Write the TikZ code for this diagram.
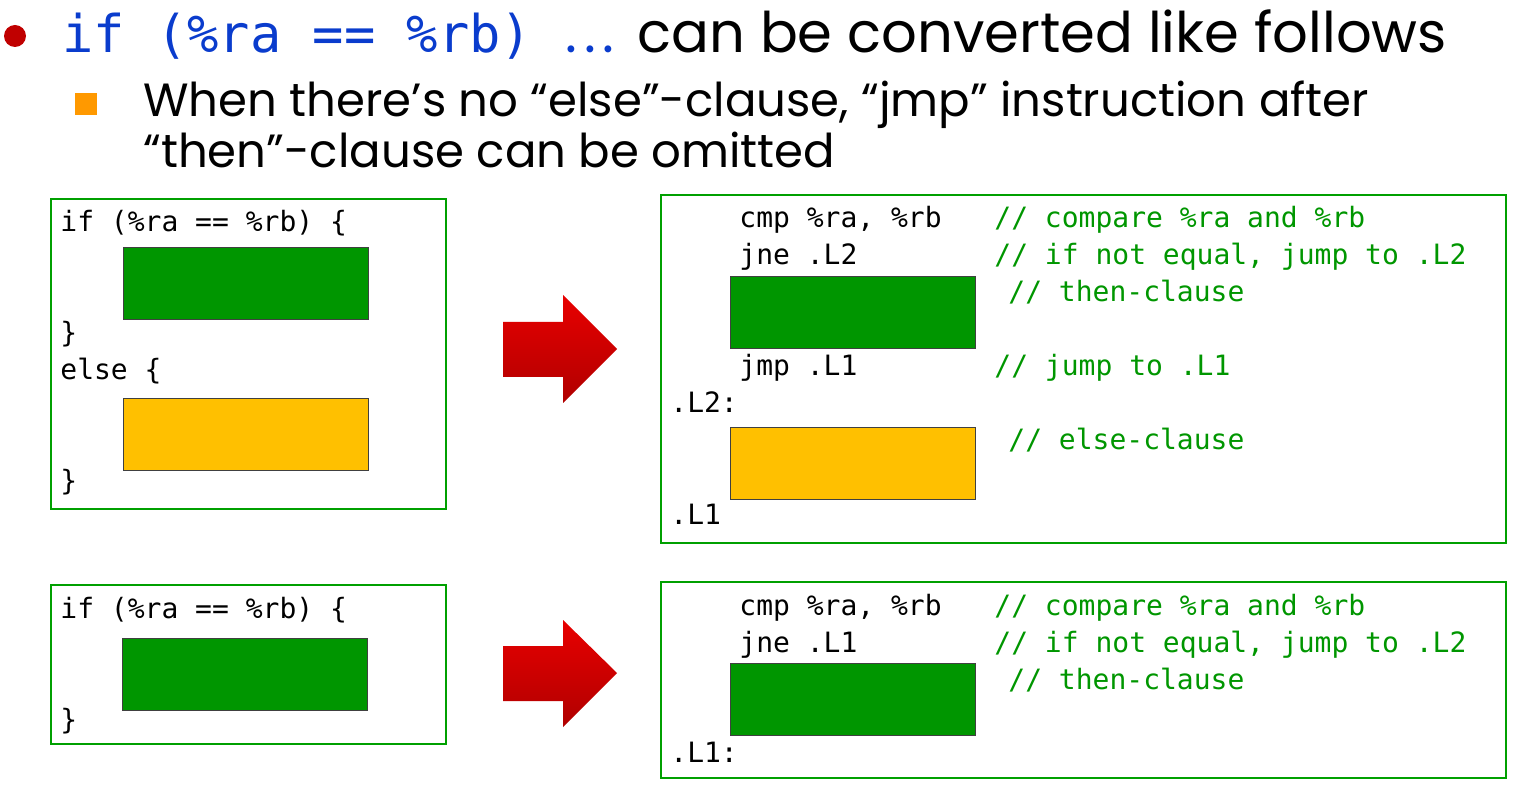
\documentclass[tikz,border=0pt]{standalone}
\usepackage{fontspec}
\setmainfont{Poppins}
\setmonofont{DejaVu Sans Mono}
\definecolor{titleblue}{RGB}{10,60,205}
\definecolor{bulletred}{RGB}{192,0,0}
\definecolor{suborange}{RGB}{255,153,0}
\definecolor{framegreen}{RGB}{0,160,0}
\definecolor{cmtgreen}{RGB}{0,150,0}
\definecolor{blkgreen}{RGB}{0,150,0}
\definecolor{blkorange}{RGB}{255,192,0}
\definecolor{arrtop}{RGB}{232,0,0}
\definecolor{arrbot}{RGB}{176,0,0}
\begin{document}
\begin{tikzpicture}[x=0.5pt,y=-0.5pt,
  code/.style={font=\ttfamily\fontsize{14}{16}\selectfont, anchor=base west, inner sep=0pt},
  cmt/.style={code, text=cmtgreen},
  frame/.style={draw=framegreen, line width=1.2pt, anchor=north west, inner sep=0pt},
  blk/.style={draw=black!75, line width=0.5pt, anchor=north west, inner sep=0pt,
    minimum width=122.5pt, minimum height=36pt},
  thenblk/.style={blk, fill=blkgreen},
  elseblk/.style={blk, fill=blkorange},
  bigarrow/.style={top color=arrtop, bottom color=arrbot},
  head/.style={anchor=base west, inner sep=0pt, font=\fontsize{28}{32}\selectfont},
  sub/.style={anchor=base west, inner sep=0pt, font=\fontsize{23.3}{27}\selectfont}]
\useasboundingbox (0,0) rectangle (1517,791);

% heading line
\node[circle, fill=bulletred, minimum size=11pt, inner sep=0pt] (dot) at (15,36) {};
\node[anchor=base west, inner sep=0pt, text=titleblue,
  font=\ttfamily\fontsize{26}{30}\selectfont] (cond) at (62,53) {if (\%ra == \%rb)};
\node[head, text=titleblue] (dots) at (565,53) {.\kern3.5pt.\kern3.5pt.};
\node[head] (rest) at (637,53) {can be converted like follows};

% sub point
\node[fill=suborange, minimum size=11pt, inner sep=0pt] (sq) at (86,104) {};
\node[sub] (s1) at (143,117) {When there’s no “else”-clause, “jmp” instruction after};
\node[sub] (s2) at (143,168) {“then”-clause can be omitted};

% ---- if/else ----
\node[frame, minimum width=197.5pt, minimum height=155pt] (srcA) at (50,198) {};
\node[code] (a1) at (60,232) {if (\%ra == \%rb) \{};
\node[thenblk] (athen) at (123,247) {};
\node[code] (a2) at (60,343) {\}};
\node[code] (a3) at (60,380) {else \{};
\node[elseblk] (aelse) at (123,398) {};
\node[code] (a4) at (60,491) {\}};

\shade[bigarrow] (503,322) -- (563,322) -- (563,295) -- (617,349) -- (563,403)
  -- (563,377) -- (503,377) -- cycle;

\node[frame, minimum width=422.5pt, minimum height=174pt] (asmA) at (660,194) {};
\node[code] (b1) at (739,228) {cmp \%ra, \%rb};
\node[cmt]  (c1) at (994,228) {// compare \%ra and \%rb};
\node[code] (b2) at (739,265) {jne .L2};
\node[cmt]  (c2) at (994,265) {// if not equal, jump to .L2};
\node[thenblk] (bthen) at (730,276) {};
\node[cmt]  (c3) at (1008,302) {// then-clause};
\node[code] (b3) at (739,376) {jmp .L1};
\node[cmt]  (c4) at (994,376) {// jump to .L1};
\node[code] (b4) at (670,413) {.L2:};
\node[elseblk] (belse) at (730,427) {};
\node[cmt]  (c5) at (1008,450) {// else-clause};
\node[code] (b5) at (670,524) {.L1};

% ---- if without else ----
\node[frame, minimum width=197.5pt, minimum height=79.5pt] (srcB) at (50,584) {};
\node[code] (d1) at (60,618) {if (\%ra == \%rb) \{};
\node[thenblk] (dthen) at (122,638) {};
\node[code] (d2) at (60,729) {\}};

\shade[bigarrow] (503,646) -- (563,646) -- (563,620) -- (617,673) -- (563,727)
  -- (563,701) -- (503,701) -- cycle;

\node[frame, minimum width=422.5pt, minimum height=98pt] (asmB) at (660,581) {};
\node[code] (e1) at (739,615) {cmp \%ra, \%rb};
\node[cmt]  (f1) at (994,615) {// compare \%ra and \%rb};
\node[code] (e2) at (739,652) {jne .L1};
\node[cmt]  (f2) at (994,652) {// if not equal, jump to .L2};
\node[thenblk] (ethen) at (730,663) {};
\node[cmt]  (f3) at (1008,689) {// then-clause};
\node[code] (e3) at (670,762) {.L1:};
\end{tikzpicture}
\end{document}
